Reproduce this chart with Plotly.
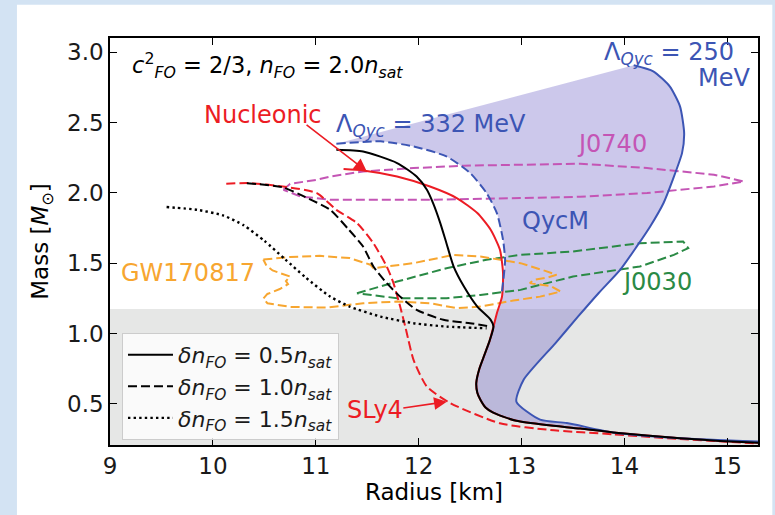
import plotly.graph_objects as go

# ---------------- data (radius in km, mass in solar masses) ----------------
# shared low-mass hadronic branch (below the phase transition)
common_r = [12.727, 12.69, 12.64, 12.59, 12.56, 12.57, 12.60, 12.65, 12.72, 12.82, 12.95, 13.24, 13.57, 13.89, 14.54, 14.93, 15.30]
common_m = [1.05, 0.95, 0.85, 0.75, 0.65, 0.58, 0.53, 0.475, 0.44, 0.41, 0.38, 0.35, 0.325, 0.297, 0.256, 0.237, 0.224]

# delta n_FO = 0.5 n_sat (solid black), upper part
dn05_r = [11.20, 11.46, 11.79, 11.98, 12.08, 12.14, 12.21, 12.27, 12.34, 12.44, 12.57, 12.70]
dn05_m = [2.307, 2.295, 2.213, 2.117, 2.023, 1.928, 1.786, 1.643, 1.477, 1.335, 1.192, 1.098]

# delta n_FO = 1.0 n_sat (dashed black)
dn10_r = [10.33, 10.68, 10.90, 11.14, 11.32, 11.46, 11.56, 11.69, 11.82, 11.98, 12.24, 12.50, 12.70]
dn10_m = [2.07, 2.04, 1.97, 1.88, 1.74, 1.619, 1.477, 1.359, 1.263, 1.169, 1.098, 1.074, 1.05]

# delta n_FO = 1.5 n_sat (dotted black)
dn15_r = [9.55, 9.85, 10.10, 10.30, 10.50, 10.70, 10.90, 11.14, 11.33, 11.63, 11.95, 12.27, 12.66]
dn15_m = [1.90, 1.88, 1.84, 1.77, 1.66, 1.53, 1.40, 1.263, 1.192, 1.121, 1.074, 1.05, 1.038]

# Nucleonic (solid red), upper part
nuc_r = [11.27, 11.46, 11.79, 12.11, 12.37, 12.57, 12.70, 12.79, 12.82, 12.81, 12.76]
nuc_m = [2.17, 2.16, 2.117, 2.046, 1.964, 1.857, 1.738, 1.596, 1.43, 1.263, 1.145]

# SLy4 (dashed red)
sly4_r = [10.13, 10.36, 10.68, 11.01, 11.20, 11.40, 11.56, 11.69, 11.755, 11.82, 11.87, 11.90, 11.95, 12.08, 12.31, 12.79, 13.28, 13.89, 14.54, 15.30]
sly4_m = [2.066, 2.07, 2.046, 1.999, 1.88, 1.786, 1.643, 1.477, 1.359, 1.192, 1.05, 0.955, 0.813, 0.623, 0.505, 0.362, 0.315, 0.284, 0.25, 0.219]

# QycM, Lambda_Qyc = 332 MeV (dashed blue)
lam332_r = [11.20, 11.63, 11.95, 12.27, 12.50, 12.66, 12.76, 12.82, 12.84, 12.83, 12.81]
lam332_m = [2.35, 2.367, 2.331, 2.26, 2.142, 1.999, 1.857, 1.667, 1.525, 1.43, 1.30]

# QycM, Lambda_Qyc = 250 MeV (solid blue)
lam250_r = [14.09, 14.28, 14.44, 14.54, 14.58, 14.56, 14.47, 14.38, 14.25, 14.12, 13.96, 13.75, 13.55, 13.33, 13.02, 12.95, 13.18, 13.44, 13.89, 14.54, 15.30]
lam250_m = [2.908, 2.865, 2.758, 2.616, 2.427, 2.285, 2.095, 1.929, 1.762, 1.62, 1.455, 1.289, 1.122, 0.933, 0.672, 0.516, 0.388, 0.364, 0.297, 0.256, 0.232]

# observational contours
j0740_r = [10.685, 10.75, 11.01, 11.14, 11.46, 11.95, 12.44, 12.99, 13.57, 14.22, 14.87, 15.16, 14.87, 14.22, 13.57, 12.99, 12.11, 11.14, 10.85, 10.685]
j0740_m = [2.023, 2.065, 2.094, 2.117, 2.153, 2.177, 2.194, 2.201, 2.208, 2.177, 2.13, 2.082, 2.046, 2.0, 1.973, 1.964, 1.952, 1.952, 1.975, 2.023]

j0030_r = [11.40, 11.79, 12.27, 12.66, 12.99, 13.50, 14.15, 14.57, 14.62, 14.48, 14.15, 13.83, 13.50, 12.99, 12.60, 12.27, 11.79, 11.40]
j0030_m = [1.287, 1.370, 1.465, 1.525, 1.56, 1.584, 1.643, 1.655, 1.608, 1.560, 1.477, 1.441, 1.406, 1.311, 1.275, 1.252, 1.252, 1.287]

gw_r = [10.49, 10.75, 11.04, 11.14, 11.33, 11.53, 11.56, 11.95, 12.34, 12.60, 12.99, 13.23, 13.34, 13.26, 13.12, 13.08, 13.28, 13.38, 13.18,
        12.92, 12.60, 12.37, 12.11, 11.79, 11.46, 11.10, 10.75, 10.53, 10.49, 10.53, 10.65, 10.73, 10.71, 10.75, 10.58, 10.52, 10.49]
gw_m = [1.527, 1.545, 1.553, 1.548, 1.537, 1.490, 1.465, 1.501, 1.560, 1.548, 1.501, 1.446, 1.418, 1.400, 1.382, 1.359, 1.339, 1.299, 1.263,
        1.235, 1.192, 1.181, 1.216, 1.228, 1.216, 1.185, 1.19, 1.216, 1.249, 1.282, 1.317, 1.352, 1.373, 1.406, 1.449, 1.484, 1.527]

shade_mass_max = 1.175

x_ticks = [9, 10, 11, 12, 13, 14, 15]
y_ticks = [0.5, 1.0, 1.5, 2.0, 2.5, 3.0]

# ---------------- styling ----------------
FONT = "DejaVu Sans"
RED = "#ec1c24"
BLUE = "#3c55b4"
MAG = "#c455b5"
ORANGE = "#f7a630"
GREEN = "#2a8a45"
SLIDE_BG = "#d3e3f3"
DASH = "9px,4px"
DOT = "2.4px,3.2px"

fig = go.Figure()

# QycM band between Lambda = 332 and Lambda = 250 MeV
band_r = lam332_r + [r for r, m in zip(nuc_r, nuc_m) if m < lam332_m[-1]] + common_r + lam250_r[::-1]
band_m = lam332_m + [m for m in nuc_m if m < lam332_m[-1]] + common_m + lam250_m[::-1]
fig.add_trace(go.Scatter(x=band_r, y=band_m, mode="lines", fill="toself",
                         fillcolor="rgba(105,95,195,0.34)", line=dict(width=0, shape="spline", smoothing=0.6),
                         hoverinfo="skip", showlegend=False))

def contour(r, m, color):
    fig.add_trace(go.Scatter(x=r, y=m, mode="lines", showlegend=False,
                             line=dict(color=color, width=2, dash=DASH)))

contour(j0740_r, j0740_m, MAG)
contour(j0030_r, j0030_m, GREEN)
contour(gw_r, gw_m, ORANGE)

def curve(r, m, color, dash="solid", name=None, legend=False, width=2):
    fig.add_trace(go.Scatter(x=r, y=m, mode="lines", name=name, showlegend=legend,
                             line=dict(color=color, width=width, dash=dash, shape="spline", smoothing=0.6)))

curve(sly4_r, sly4_m, RED, DASH)
curve(nuc_r + common_r, nuc_m + common_m, RED)
curve(lam332_r, lam332_m, BLUE, DASH)
curve(lam250_r, lam250_m, BLUE)
curve(dn15_r, dn15_m, "black", DOT,
      "<i>δn</i><sub><i>FO</i></sub> = 1.5<i>n</i><sub><i>sat</i></sub>", True, 2.4)
curve(dn10_r, dn10_m, "black", DASH,
      "<i>δn</i><sub><i>FO</i></sub> = 1.0<i>n</i><sub><i>sat</i></sub>", True)
curve(dn05_r + common_r, dn05_m + common_m, "black", "solid",
      "<i>δn</i><sub><i>FO</i></sub> = 0.5<i>n</i><sub><i>sat</i></sub>", True)

# white card on the textured slide background (drawn first)
fig.add_shape(type="rect", xref="paper", yref="paper", x0=-0.1436, x1=1.0221, y0=-0.2, y1=1.0819,
              fillcolor="white", line=dict(width=0), layer="below")
# shaded low-mass region
fig.add_shape(type="rect", xref="x", yref="y", x0=8.5, x1=15.8, y0=0.0, y1=shade_mass_max,
              fillcolor="#e6e7e6", line=dict(width=0), layer="below")

def label(x, y, text, color, size=24, xanchor="center"):
    fig.add_annotation(x=x, y=y, xref="x", yref="y", text=text, showarrow=False,
                       font=dict(family=FONT, size=size, color=color), xanchor=xanchor, yanchor="middle")

label(9.194, 2.905, "<i>c</i><sup>2</sup><sub><i>FO</i></sub> = 2/3, <i>n</i><sub><i>FO</i></sub> = 2.0<i>n</i><sub><i>sat</i></sub>", "black", 22.5, "left")
label(10.483, 2.557, "Nucleonic", RED)
label(12.12, 2.48, "Λ<sub><i>Qyc</i></sub> = 332 MeV", BLUE)
label(14.43, 2.99, "Λ<sub><i>Qyc</i></sub> = 250", BLUE)
label(14.965, 2.815, "MeV", BLUE)
label(13.88, 2.35, "J0740", MAG)
label(13.33, 1.80, "QycM", BLUE)
label(14.32, 1.364, "J0030", GREEN)
label(9.76, 1.432, "GW170817", ORANGE)
label(11.58, 0.457, "SLy4", RED)

def arrow(x0, y0, x1, y1):
    fig.add_annotation(x=x1, y=y1, ax=x0, ay=y0, xref="x", yref="y", axref="x", ayref="y",
                       text="", showarrow=True, arrowhead=2, arrowsize=1.6, arrowwidth=1.6,
                       arrowcolor=RED, standoff=0, startstandoff=0)

arrow(10.896, 2.493, 11.496, 2.153)
arrow(11.836, 0.469, 12.274, 0.516)

axis_common = dict(showline=True, linecolor="black", linewidth=1.5, mirror="ticks",
                   ticks="inside", ticklen=7, tickwidth=1.3, tickcolor="black",
                   showgrid=False, zeroline=False,
                   tickfont=dict(family=FONT, size=23, color="#1a1a1a"))

fig.update_layout(
    width=775, height=515,
    margin=dict(l=110, r=17.3, t=38.3, b=70, autoexpand=False),
    paper_bgcolor=SLIDE_BG, plot_bgcolor="white",
    font=dict(family=FONT, size=23, color="black"),
    xaxis=dict(range=[9, 15.298], tickvals=x_ticks,
               title=dict(text="Radius [km]", font=dict(family=FONT, size=23), standoff=3),
               **axis_common),
    yaxis=dict(range=[0.208, 3.102], tickvals=y_ticks, tickformat=".1f",
               title=dict(text="Mass [<i>M</i><sub>⊙</sub>]", font=dict(family=FONT, size=23), standoff=12),
               **axis_common),
    legend=dict(x=0.0185, y=0.2754, xanchor="left", yanchor="top", traceorder="reversed",
                bgcolor="rgba(255,255,255,0.8)", bordercolor="#cccccc", borderwidth=1,
                font=dict(family=FONT, size=22, color="#1a1a1a"), itemwidth=45, tracegroupgap=0),
)

page_fix = ("document.body.style.margin='0';document.body.style.padding='0';"
            "document.body.style.overflow='hidden';document.body.style.background='" + SLIDE_BG + "';")
fig.write_html("out.html", post_script=page_fix, config={"displayModeBar": False})
